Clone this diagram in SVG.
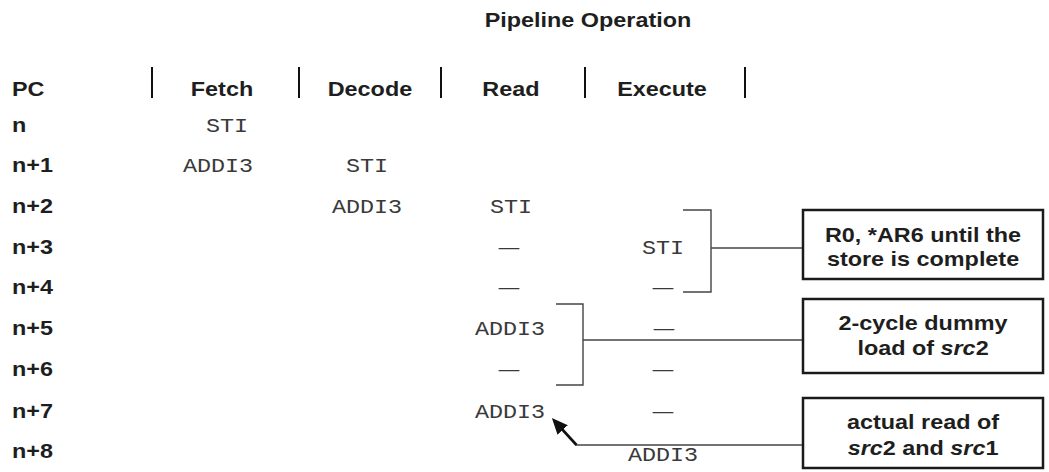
<svg xmlns="http://www.w3.org/2000/svg" width="1049" height="472" viewBox="0 0 1049 472">
<style>
.b{font-family:"Liberation Sans",Arial,sans-serif;font-weight:bold;font-size:19.5px;fill:#1e1e1e}
.m{font-family:"Liberation Mono","Courier New",monospace;font-size:19.5px;fill:#3a3a3a}
.c{text-anchor:middle}
.sep{stroke:#111;stroke-width:2}
.ln{fill:none;stroke:#444;stroke-width:1.4}
.box{fill:#fff;stroke:#1a1a1a;stroke-width:2.5}
</style>
<defs>
<marker id="ah" markerUnits="userSpaceOnUse" markerWidth="16" markerHeight="14" refX="8" refY="7" orient="auto">
<path d="M0,0 L16,7 L0,14 Z" fill="#111"/>
</marker>
</defs>
<rect width="1049" height="472" fill="#fff"/>

<g id="title" transform="scale(1.2,1)">
<text class="b c" x="490" y="27">Pipeline Operation</text>
</g>

<g id="header">
<line class="sep" x1="152" y1="67" x2="152" y2="98"/>
<line class="sep" x1="299" y1="67" x2="299" y2="98"/>
<line class="sep" x1="441" y1="67" x2="441" y2="98"/>
<line class="sep" x1="585" y1="67" x2="585" y2="98"/>
<line class="sep" x1="745" y1="67" x2="745" y2="98"/>
<g transform="scale(1.2,1)">
<text class="b" x="10" y="96">PC</text>
<text class="b c" x="185" y="96">Fetch</text>
<text class="b c" x="308.3" y="96">Decode</text>
<text class="b c" x="425.8" y="96">Read</text>
<text class="b c" x="551.7" y="96">Execute</text>
</g>
</g>

<g id="rows" transform="scale(1.2,1)">
<g id="row-n">
<text class="b" x="10" y="132">n</text>
<text class="m c" x="189.2" y="132">STI</text>
</g>
<g id="row-n1">
<text class="b" x="10" y="172.5">n+1</text>
<text class="m c" x="181.7" y="172.5">ADDI3</text>
<text class="m c" x="305.8" y="172.5">STI</text>
</g>
<g id="row-n2">
<text class="b" x="10" y="213">n+2</text>
<text class="m c" x="305.8" y="213">ADDI3</text>
<text class="m c" x="425.8" y="213">STI</text>
</g>
<g id="row-n3">
<text class="b" x="10" y="254">n+3</text>
<text class="m c" x="424.2" y="254" textLength="17" lengthAdjust="spacingAndGlyphs">—</text>
<text class="m c" x="552.5" y="254">STI</text>
</g>
<g id="row-n4">
<text class="b" x="10" y="294.5">n+4</text>
<text class="m c" x="424.2" y="294.5" textLength="17" lengthAdjust="spacingAndGlyphs">—</text>
<text class="m c" x="552.5" y="294.5" textLength="17" lengthAdjust="spacingAndGlyphs">—</text>
</g>
<g id="row-n5">
<text class="b" x="10" y="335.5">n+5</text>
<text class="m c" x="425" y="335.5">ADDI3</text>
<text class="m c" x="553.3" y="335.5" textLength="17" lengthAdjust="spacingAndGlyphs">—</text>
</g>
<g id="row-n6">
<text class="b" x="10" y="376.5">n+6</text>
<text class="m c" x="424.2" y="376.5" textLength="17" lengthAdjust="spacingAndGlyphs">—</text>
<text class="m c" x="552.5" y="376.5" textLength="17" lengthAdjust="spacingAndGlyphs">—</text>
</g>
<g id="row-n7">
<text class="b" x="10" y="418">n+7</text>
<text class="m c" x="425" y="418">ADDI3</text>
<text class="m c" x="552.5" y="418" textLength="17" lengthAdjust="spacingAndGlyphs">—</text>
</g>
<g id="row-n8">
<text class="b" x="10" y="458.5">n+8</text>
<text class="m c" x="552.5" y="461">ADDI3</text>
</g>
</g>

<g id="connectors">
<path class="ln" d="M683,210 H711 V292 H683"/>
<path class="ln" d="M711,248 H803"/>
<path class="ln" d="M556,304 H583 V385 H556"/>
<path class="ln" d="M583,340 H803"/>
<path class="ln" d="M803,445 H576"/>
<path d="M576.5,445 L557.3,424" fill="none" stroke="#111" stroke-width="2.6" marker-end="url(#ah)"/>
</g>

<g id="box-store">
<rect class="box" x="803" y="210" width="240" height="69"/>
<g transform="scale(1.2,1)">
<text class="b c" x="769.2" y="242">R0, *AR6 until the</text>
<text class="b c" x="769.2" y="266">store is complete</text>
</g>
</g>

<g id="box-dummy">
<rect class="box" x="803" y="299" width="240" height="74"/>
<g transform="scale(1.2,1)">
<text class="b c" x="769.2" y="330">2-cycle dummy</text>
<text class="b c" x="769.2" y="355">load of <tspan font-style="italic">src</tspan>2</text>
</g>
</g>

<g id="box-read">
<rect class="box" x="803" y="398" width="240" height="70"/>
<g transform="scale(1.2,1)">
<text class="b c" x="769.2" y="429">actual read of</text>
<text class="b c" x="769.2" y="455"><tspan font-style="italic">src</tspan>2 and <tspan font-style="italic">src</tspan>1</text>
</g>
</g>
</svg>
